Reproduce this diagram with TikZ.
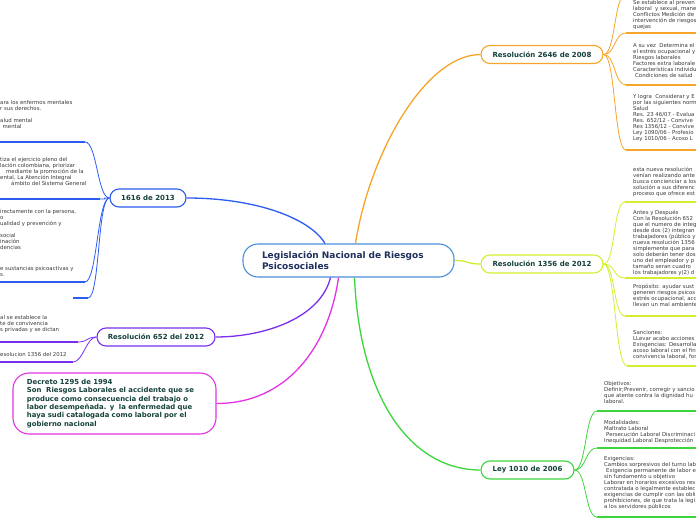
\documentclass[tikz,border=0pt]{standalone}
\usepackage{fontspec}
\setmainfont{DejaVu Sans}
\usepackage{xcolor}
\usetikzlibrary{positioning}
\definecolor{bluec}{HTML}{2B5BEF}
\definecolor{purplec}{HTML}{7A2FEF}
\definecolor{magentac}{HTML}{E433E4}
\definecolor{orangec}{HTML}{F5A52A}
\definecolor{limec}{HTML}{D4EE2E}
\definecolor{greenc}{HTML}{3CD63C}
\definecolor{centralc}{HTML}{4A8FDB}
\definecolor{nodetext}{HTML}{15413A}
\definecolor{centraltext}{HTML}{1E2F5C}
\definecolor{subtextc}{HTML}{3A3A3A}
\newcommand{\subtxt}{\fontsize{5.4bp}{6bp}\selectfont}
\newcommand{\topictxt}{\fontsize{7bp}{8bp}\selectfont\bfseries}
\newcommand{\centraltxt}{\fontsize{9bp}{11bp}\selectfont\bfseries}
\newcommand{\decretotxt}{\fontsize{6.9bp}{8.4bp}\selectfont\bfseries}

\begin{document}
\begin{tikzpicture}[x=1bp,y=-1bp,
  every node/.style={inner sep=0pt},
  topic/.style={draw,fill=white,rounded corners=9bp,line width=1.1bp,
                minimum height=18bp,font=\topictxt,text=nodetext,align=center},
  subtext/.style={anchor=north west,align=left,font=\subtxt,text=subtextc},
  cline/.style={line width=1.3bp},
  sline/.style={line width=0.8bp},
  uline/.style={line width=1.8bp},
]
\useasboundingbox (0,0) rectangle (696,520);
\clip (0,0) rectangle (696,520);

% main topics
\node[topic,draw=centralc,rounded corners=15bp,minimum width=211bp,minimum height=33bp,
      text width=173bp,align=left,font=\centraltxt,text=centraltext] (central) at (348.5,260.5)
  {Legislación Nacional de Riesgos\\Psicosociales};
\node[topic,draw=orangec,minimum width=122bp] (res2646) at (542,54.5) {Resolución 2646 de 2008};
\node[topic,draw=limec,minimum width=122bp] (res1356) at (542,264) {Resolución 1356 de 2012};
\node[topic,draw=greenc,minimum width=93bp] (ley1010) at (527.5,470) {Ley 1010 de 2006};
\node[topic,draw=bluec,minimum width=76bp] (ley1616) at (148,198) {1616 de 2013};
\node[topic,draw=purplec,minimum width=118bp] (res652) at (156,337) {Resolución 652 del 2012};
\node[topic,draw=magentac,rounded corners=16bp,minimum width=203bp,minimum height=61bp,
      text width=175bp,align=left,font=\decretotxt] (decreto) at (114.5,403.5)
  {Decreto 1295 de 1994\\
   Son\ \ Riesgos Laborales el accidente que se\\
   produce como consecuencia del trabajo o\\
   labor desempeñada. y\ \ la enfermedad que\\
   haya sudi catalogada como laboral por el\\
   gobierno nacional};

% branches from the centre
\draw[cline,bluec] (ley1616.east) .. controls +(70,0) and +(-15,-25) .. ([xshift=-23.5bp]central.north);
\draw[cline,orangec] (res2646.west) .. controls +(-55,0) and +(14,-90) .. ([xshift=7bp]central.north);
\draw[cline,limec] (central.east) .. controls +(14,0) and +(-14,0) .. (res1356.west);
\draw[cline,greenc] ([xshift=6bp]central.south) .. controls +(5,120) and +(-70,0) .. (ley1010.west);
\draw[cline,magentac] ([xshift=-10bp]central.south) .. controls +(-10,70) and +(70,0) .. (decreto.east);
\draw[cline,purplec] ([xshift=-18bp]central.south) .. controls +(-10,40) and +(50,0) .. (res652.east);

% sub topic ends
\coordinate (o1) at (626,-6);
\coordinate (o2) at (626,33);
\coordinate (o3) at (626,85);
\coordinate (o4) at (626,150);
\coordinate (y1) at (625,202);
\coordinate (y2) at (625,278);
\coordinate (y3) at (625,316);
\coordinate (y4) at (627,366);
\coordinate (g1) at (597,411);
\coordinate (g2) at (597,448);
\coordinate (g3) at (597,517);
\coordinate (b1) at (85,142);
\coordinate (b2) at (100,199);
\coordinate (b3) at (85,282);
\coordinate (b4) at (88,298);
\coordinate (p1) at (78,342);
\coordinate (p2) at (73,362);

\foreach \c in {o1,o2,o3,o4}{
  \draw[sline,orangec] (res2646.east) .. controls +(12,0) and +(-12,0) .. (\c);
  \draw[uline,orangec] (\c) -- ++(80,0);
}
\foreach \c in {y1,y2,y3,y4}{
  \draw[sline,limec] (res1356.east) .. controls +(12,0) and +(-12,0) .. (\c);
  \draw[uline,limec] (\c) -- ++(80,0);
}
\foreach \c in {g1,g2,g3}{
  \draw[sline,greenc] (ley1010.east) .. controls +(12,0) and +(-12,0) .. (\c);
  \draw[uline,greenc] (\c) -- ++(110,0);
}
\foreach \c in {b1,b2,b3}{
  \draw[sline,bluec] (ley1616.west) .. controls +(-12,0) and +(12,0) .. (\c);
  \draw[uline,bluec] (\c) -- ++(-100,0);
}
\draw[sline,bluec] (ley1616.west) .. controls +(-12,0) and +(12,0) .. (b4);
\draw[uline,bluec] (b4) -- ++(-15,0);
\foreach \c in {p1,p2}{
  \draw[sline,purplec] (res652.west) .. controls +(-10,0) and +(10,0) .. (\c);
  \draw[uline,purplec] (\c) -- ++(-90,0);
}

% texts, right side
\node[subtext] (t2646a) at (633,0.3)
  {Se establece al preven\\laboral\ \ y sexual, mane\\Conflictos Medición de\\intervención de riesgos\\quejas};
\node[subtext] (t2646b) at (633,43.6)
  {A su vez\ \ Determina el\\el estrés ocupacional y\\Riesgos laborales\\Factores extra laborale\\Características individu\\\hspace*{2bp}Condiciones de salud};
\node[subtext] (t2646c) at (633,94.6)
  {Y logra\ \ Considerar y E\\por las siguientes norm\\Salud\\Res. 23 46/07 - Evalua\\Res. 652/12 - Convive\\Res 1356/12 - Convive\\Ley 1090/06 - Profesio\\Ley 1010/06 - Acoso L};
\node[subtext] (t1356a) at (633,166.6)
  {esta nueva resolución\\venían realizando ante\\busca concienciar a los\\solución a sus diferenc\\proceso que ofrece est};
\node[subtext] (t1356b) at (633,209.6)
  {Antes y Después\\Con la Resolución 652\\que el numero de integ\\desde dos (2) integran\\trabajadores (público y\\nueva resolución 1356\\simplemente que para\\solo deberán tener dos\\uno del empleador y p\\tamaño seran cuadro\\los trabajadores y(2) d};
\node[subtext] (t1356c) at (633,283.6)
  {Propósito: ayudar sust\\generen riesgos psicos\\estrés ocupacional, acc\\llevan un mal ambiente};
\node[subtext] (t1356d) at (633,330.6)
  {Sanciones:\\LLevar acabo acciones\\Exisgencias: Desarrolla\\acoso laboral con el fin\\convivencia laboral, for};
\node[subtext] (t1010a) at (604,381.6)
  {Objetivos:\\Definir;Prevenir, corregir y sancio\\que atente contra la dignidad hu\\laboral.};
\node[subtext] (t1010b) at (604,420.6)
  {Modalidades:\\Maltrato Laboral\\\hspace*{2bp}Persecución Laboral Discriminaci\\Inequidad Laboral Desprotección};
\node[subtext] (t1010c) at (604,456.6)
  {Exigencias:\\Cambios sorpresivos del turno lab\\\hspace*{2bp}Exigencia permanente de labor e\\sin fundamento u objetivo\\Laborar en horarios excesivos res\\contratada o legalmente establec\\exigencias de cumplir con las obli\\prohibiciones, de que trata la legi\\a los servidores públicos};

% texts, left side
\node[subtext] (t1616a) at (0,100.6)
  {ara los enfermos mentales\\r sus derechos.\\[6bp]alud mental\\\hspace*{2.5bp}mental};
\node[subtext] (t1616b) at (0,157.6)
  {tiza el ejercicio pleno del\\lación colombiana, priorizar\\\hspace*{6bp}mediante la promoción de la\\ental, La Atención Integral\\\hspace*{11bp}ámbito del Sistema General};
\node[subtext] (t1616c) at (0,209.6)
  {irectamente con la persona,\\o\\ualidad y prevención y\\[6bp]social\\inación\\dencias};
\node[subtext] (t1616d) at (0,266.6)
  {e sustancias psicoactivas y\\s.};
\node[subtext] (t652a) at (0,315.6)
  {al se establece la\\te de convivencia\\s privadas y se dictan};
\node[subtext] (t652b) at (0,352.6)
  {esolucion 1356 del 2012};
\end{tikzpicture}
\end{document}
